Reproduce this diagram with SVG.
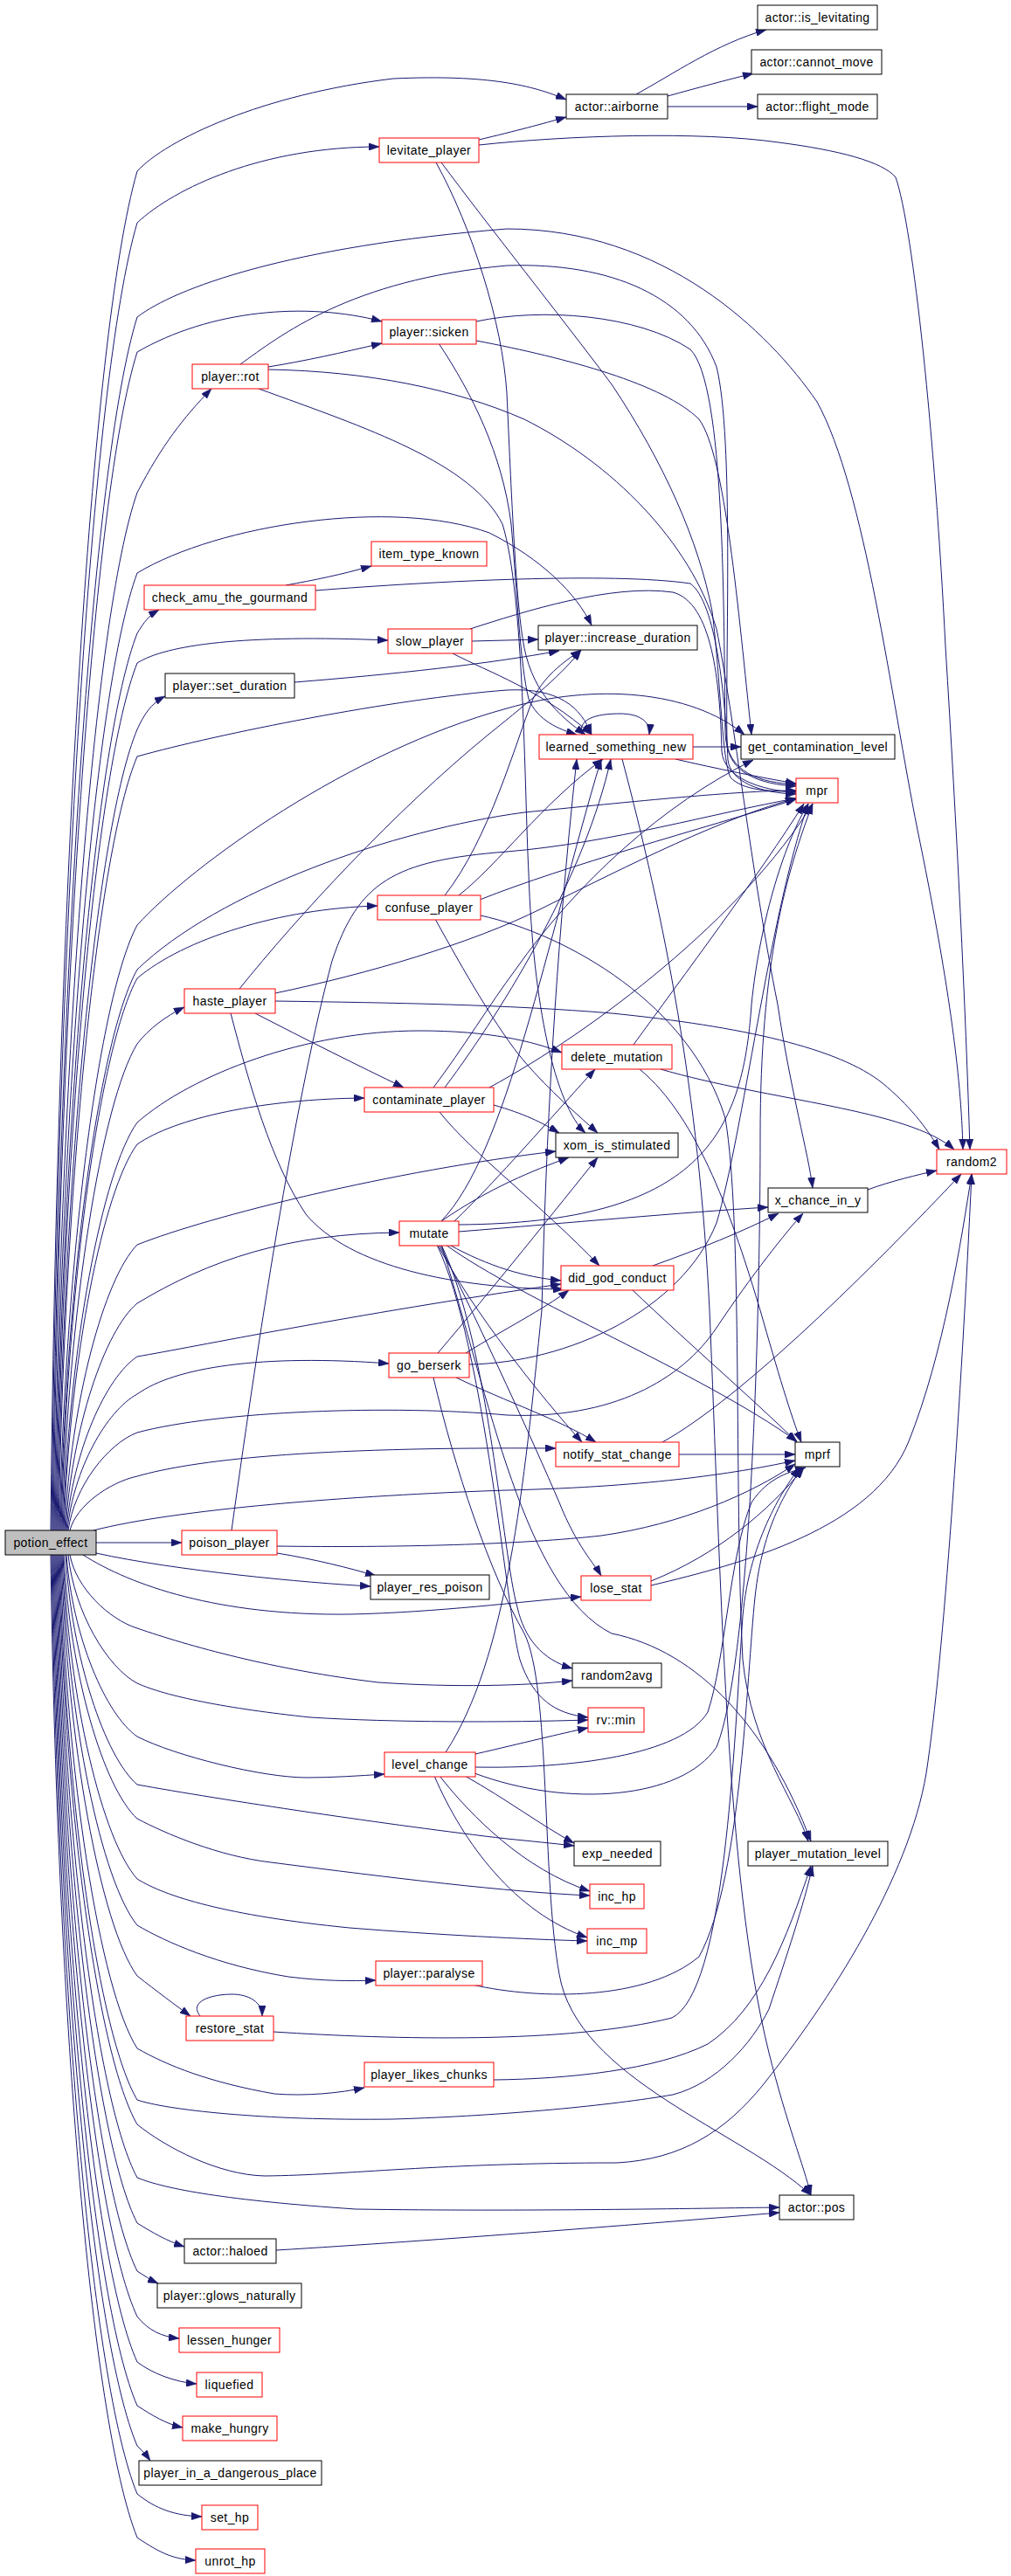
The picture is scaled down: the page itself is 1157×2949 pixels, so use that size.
<svg xmlns="http://www.w3.org/2000/svg" width="1157" height="2949" viewBox="0 0 1157 2949">
<defs>
<style>
.nr rect{fill:#fff;stroke:#ff0000;stroke-width:1}
.nb rect{fill:#fff;stroke:#000;stroke-width:1}
.ng rect{fill:#bfbfbf;stroke:#000;stroke-width:1}
text{font-family:"Liberation Sans",Arial,sans-serif;font-size:14px;letter-spacing:0.4px;text-anchor:middle;fill:#000}
#edges path{fill:none;stroke:#191970;stroke-width:1;marker-end:url(#a)}
</style>
<marker id="a" viewBox="0 0 12 8.5" refX="12" refY="4.25" markerWidth="12" markerHeight="8.5" markerUnits="userSpaceOnUse" orient="auto"><path d="M0,0 L12,4.25 L0,8.5 z" fill="#191970" stroke="#191970" stroke-width="0.5"/></marker>
</defs>
<rect x="0" y="0" width="1157" height="2949" fill="#fff"/>
<g id="edges">
<path d="M58,1752 C65,1052 103,383 157,196 C190,160 300,108 450,90 C560,85 610,98 648,114"/>
<path d="M59,1752 C66,1078 104,435 157,255 C200,215 300,168 434,168"/>
<path d="M60,1752 C67,1127 105,530 157,363 C200,330 330,282 580,262 C760,262 880,380 935,460 C990,560 1020,800 1050,950 C1085,1120 1100,1230 1102,1316"/>
<path d="M61,1752 C68,1145 106,565 157,403 C240,355 350,345 437,368"/>
<path d="M62,1752 C69,1217 107,707 157,564 C185,510 210,478 242,445"/>
<path d="M63,1752 C70,1259 108,788 157,656 C250,600 450,570 560,610 C620,640 660,680 677,716"/>
<path d="M64,1752 C71,1290 109,848 157,725 C165,712 170,705 182,698"/>
<path d="M65,1752 C72,1305 110,878 157,759 C190,738 280,726 444,733"/>
<path d="M66,1752 C73,1339 111,945 157,835 C165,818 172,806 189,797"/>
<path d="M67,1752 C74,1353 112,972 157,866 C250,840 450,800 580,790 C640,787 665,810 677,841"/>
<path d="M68,1752 C75,1440 113,1142 157,1059 C220,990 400,860 580,811 C680,782 790,790 852,841"/>
<path d="M69,1752 C76,1463 114,1187 157,1110 C250,1020 450,950 600,930 C750,915 850,905 911,905"/>
<path d="M70,1752 C77,1468 115,1196 157,1120 C210,1075 320,1040 432,1037"/>
<path d="M71,1752 C78,1501 116,1262 157,1195 C170,1178 190,1163 211,1153"/>
<path d="M72,1752 C79,1542 117,1341 157,1285 C220,1230 350,1180 480,1180 C560,1180 610,1192 643,1205"/>
<path d="M73,1752 C80,1553 118,1363 157,1310 C200,1280 300,1258 417,1257"/>
<path d="M74,1752 C81,1605 119,1464 157,1425 C240,1392 450,1340 636,1318"/>
<path d="M75,1752 C82,1635 120,1523 157,1492 C240,1442 330,1412 457,1411"/>
<path d="M76,1752 C83,1662 121,1577 157,1553 C222,1542 400,1505 642,1470"/>
<path d="M77,1752 C84,1682 122,1615 157,1596 C200,1565 300,1550 445,1561"/>
<path d="M78,1752 C85,1702 123,1653 157,1640 C250,1615 450,1608 580,1620 C700,1625 780,1580 820,1520 C860,1460 900,1410 919,1389"/>
<path d="M80,1752 C87,1724 125,1697 157,1690 C220,1672 350,1656 636,1658"/>
<path d="M107,1752 C200,1728 400,1712 580,1706 C750,1702 850,1685 910,1672"/>
<path d="M110,1766 L208,1766"/>
<path d="M110,1778 C200,1798 350,1812 424,1816"/>
<path d="M95,1780 C150,1815 250,1850 400,1848 C500,1846 600,1833 665,1828"/>
<path d="M80,1780 C87,1818 125,1854 157,1864 C215,1884 314,1912 433,1926 C520,1932 600,1930 655,1924"/>
<path d="M78,1780 C85,1846 123,1909 157,1927 C190,1942 260,1956 355,1966 C450,1972 580,1972 673,1969"/>
<path d="M76,1780 C83,1874 121,1963 157,1988 C200,2010 300,2035 351,2035 C380,2035 410,2033 440,2031"/>
<path d="M75,1780 C82,1898 120,2011 157,2043 C250,2060 450,2090 580,2105 C610,2108 630,2110 657,2113"/>
<path d="M73,1780 C80,1916 118,2046 157,2082 C189,2099 250,2125 310,2132 C450,2150 580,2166 675,2170"/>
<path d="M72,1780 C79,1947 117,2106 157,2151 C189,2171 259,2193 400,2207 C500,2215 600,2220 672,2222"/>
<path d="M71,1780 C78,1971 116,2153 157,2204 C189,2223 250,2250 330,2263 C370,2268 400,2268 430,2267"/>
<path d="M70,1780 C77,1997 115,2204 157,2262 C180,2280 200,2295 218,2308"/>
<path d="M69,1780 C76,2034 114,2277 157,2345 C192,2365 240,2384 314,2397 C350,2400 390,2396 417,2390"/>
<path d="M68,1780 C75,2061 113,2329 157,2404 C189,2415 300,2428 450,2426 C580,2422 700,2410 770,2398 C820,2385 860,2340 880,2300 C900,2240 920,2180 930,2136"/>
<path d="M67,1780 C74,2073 112,2354 157,2432 C189,2458 250,2490 303,2491 C400,2490 500,2476 706,2476 C780,2472 830,2440 873,2387 C950,2290 1040,2150 1060,2030 C1080,1900 1100,1600 1112,1344"/>
<path d="M66,1780 C73,2101 111,2407 157,2493 C189,2506 259,2519 407,2529 C600,2532 800,2528 892,2527"/>
<path d="M65,1780 C72,2124 110,2453 157,2545 C175,2556 190,2565 211,2572"/>
<path d="M64,1780 C71,2149 109,2502 157,2600 C165,2605 172,2610 181,2614"/>
<path d="M63,1780 C70,2172 108,2547 157,2652 C170,2668 185,2675 205,2677"/>
<path d="M62,1780 C69,2196 107,2593 157,2704 C174,2717 200,2727 225,2729"/>
<path d="M61,1780 C68,2218 106,2637 157,2754 C174,2765 190,2775 209,2779"/>
<path d="M60,1780 C67,2239 105,2678 157,2800 C163,2806 167,2810 172,2817"/>
<path d="M59,1780 C66,2264 104,2726 157,2855 C178,2872 200,2880 231,2881"/>
<path d="M58,1780 C65,2286 103,2770 157,2905 C185,2924 200,2930 224,2931"/>
<path d="M728,108 C770,85 820,50 877,34"/>
<path d="M764,110 C800,100 830,92 862,84"/>
<path d="M764,122 L867,122"/>
<path d="M548,160 C590,150 620,142 648,134"/>
<path d="M548,166 C650,155 800,150 891,163 C960,172 1010,185 1025,203 C1045,260 1070,500 1082,740 C1095,950 1105,1150 1110,1316"/>
<path d="M499,186 C540,260 575,370 580,450 C585,560 590,680 598,730 C606,790 640,820 670,841"/>
<path d="M505,186 C560,260 640,360 700,440 C760,530 800,620 815,700 C825,780 826,870 836,890 C850,905 880,906 911,906"/>
<path d="M307,420 C350,413 390,404 437,393"/>
<path d="M275,417 C320,385 400,320 580,304 C700,300 790,340 820,420 C840,500 830,750 832,850 C834,885 870,898 911,900"/>
<path d="M307,423 C420,425 520,445 600,480 C700,530 790,620 820,720 C840,820 860,1000 890,1150 C905,1250 925,1320 930,1360"/>
<path d="M296,445 C420,490 540,530 575,600 C600,680 600,900 605,1000 C610,1150 635,1265 670,1297"/>
<path d="M545,368 C620,352 730,360 790,400 C830,440 828,700 830,840 C832,885 870,896 911,898"/>
<path d="M545,390 C650,410 760,440 800,480 C830,520 845,700 860,841"/>
<path d="M502,393 C540,450 575,520 585,600 C592,680 595,760 605,800 C615,825 640,835 660,841"/>
<path d="M327,670 C360,664 390,658 425,648"/>
<path d="M361,676 C500,665 700,655 790,668 C820,690 830,800 833,870 C836,895 870,908 911,909"/>
<path d="M540,734 L616,732"/>
<path d="M538,720 C600,700 700,668 770,678 C815,690 824,780 826,860 C828,890 870,905 911,907"/>
<path d="M518,748 C560,770 620,790 677,841"/>
<path d="M337,781 C450,772 560,760 640,745"/>
<path d="M509,1025 C560,960 590,850 610,800 C625,770 650,755 665,744"/>
<path d="M525,1025 C570,990 620,920 690,869"/>
<path d="M549,1030 C650,990 800,950 911,915"/>
<path d="M550,1048 C650,1070 790,1150 830,1280 C850,1400 840,1700 850,1900 C860,2000 910,2060 925,2108"/>
<path d="M498,1052 C530,1110 570,1180 600,1215 C630,1250 660,1275 684,1297"/>
<path d="M274,1132 C340,1050 450,930 560,840 C610,800 645,770 665,744"/>
<path d="M315,1137 C420,1115 540,1080 620,1040 C720,990 830,935 911,914"/>
<path d="M315,1146 C450,1148 580,1150 700,1160 C850,1175 960,1200 1010,1240 C1040,1265 1060,1290 1075,1316"/>
<path d="M292,1160 C350,1190 410,1220 462,1245"/>
<path d="M264,1160 C285,1240 310,1330 350,1390 C400,1450 520,1475 645,1476"/>
<path d="M496,1245 C530,1200 560,1150 590,1110 C660,1010 760,920 862,870"/>
<path d="M509,1245 C580,1150 670,1000 699,869"/>
<path d="M560,1245 C680,1180 850,1050 930,920"/>
<path d="M565,1265 C600,1275 620,1285 640,1297"/>
<path d="M503,1273 C540,1320 620,1380 686,1449"/>
<path d="M505,1398 C580,1320 625,1080 688,869"/>
<path d="M505,1398 C560,1360 610,1340 651,1325"/>
<path d="M520,1398 C570,1350 630,1280 681,1224"/>
<path d="M525,1402 C800,1400 850,1300 860,1150 C870,1050 900,960 925,920"/>
<path d="M525,1410 C650,1400 780,1388 879,1382"/>
<path d="M514,1425 C560,1450 600,1462 642,1466"/>
<path d="M501,1425 C540,1500 620,1600 666,1651"/>
<path d="M503,1425 C555,1530 610,1650 640,1720 C660,1770 680,1790 688,1804"/>
<path d="M505,1425 C560,1540 575,1780 592,1840 C600,1875 620,1900 655,1910"/>
<path d="M500,1425 C555,1540 580,1850 595,1900 C610,1945 635,1962 673,1966"/>
<path d="M510,1425 C600,1490 800,1570 912,1650"/>
<path d="M505,1425 C560,1600 600,1820 700,1870 C800,1890 880,1980 928,2108"/>
<path d="M501,1549 C560,1480 640,1380 684,1325"/>
<path d="M533,1549 C580,1520 620,1500 651,1477"/>
<path d="M537,1562 C650,1560 780,1500 820,1400 C850,1300 880,1050 925,920"/>
<path d="M522,1577 C580,1605 640,1625 682,1651"/>
<path d="M496,1577 C520,1680 560,1800 600,1870 C630,1930 620,2150 640,2260 C660,2380 850,2440 928,2513"/>
<path d="M265,1752 C300,1500 340,1250 380,1100 C410,1010 450,985 580,975 C700,965 820,930 911,914"/>
<path d="M317,1778 C360,1785 400,1795 430,1804"/>
<path d="M317,1770 C450,1772 600,1768 688,1758 C780,1745 860,1710 910,1676"/>
<path d="M510,2006 C580,1900 600,1700 620,1500 C625,1300 635,1100 660,869"/>
<path d="M544,2008 C600,1995 640,1985 673,1978"/>
<path d="M544,2023 C650,2025 780,2010 810,1960 C830,1900 835,1780 860,1720 C880,1690 905,1685 922,1680"/>
<path d="M543,2030 C650,2070 780,2060 820,2000 C860,1900 870,1500 870,1300 C870,1100 900,1000 930,920"/>
<path d="M532,2033 C580,2060 620,2090 657,2110"/>
<path d="M503,2033 C540,2080 600,2140 675,2165"/>
<path d="M497,2033 C530,2110 590,2190 672,2218"/>
<path d="M540,2272 C620,2290 740,2290 800,2240 C850,2150 855,1900 865,1820 C875,1740 905,1700 918,1680"/>
<path d="M229,2308 C215,2290 245,2283 265,2283 C285,2283 300,2292 300,2308"/>
<path d="M313,2326 C450,2335 650,2340 769,2310 C830,2280 840,2000 850,1850 C858,1760 900,1700 915,1680"/>
<path d="M565,2381 C650,2380 750,2370 810,2340 C870,2300 900,2220 928,2136"/>
<path d="M316,2576 C500,2565 750,2545 892,2533"/>
<path d="M666,841 C660,820 690,817 710,817 C730,817 745,825 743,841"/>
<path d="M793,855 L848,855"/>
<path d="M773,869 C820,880 870,890 911,897"/>
<path d="M712,869 C760,1050 800,1250 812,1500 C825,1800 830,2150 880,2350 C900,2430 920,2480 928,2513"/>
<path d="M756,1224 C880,1260 1040,1270 1092,1316"/>
<path d="M725,1196 C780,1120 870,1000 920,920"/>
<path d="M732,1224 C800,1280 840,1400 870,1500 C890,1570 905,1620 917,1651"/>
<path d="M747,1449 C800,1430 850,1410 891,1389"/>
<path d="M723,1476 C790,1540 860,1600 912,1651"/>
<path d="M777,1665 L910,1665"/>
<path d="M758,1651 C850,1600 1000,1450 1100,1344"/>
<path d="M745,1810 C820,1780 880,1730 920,1680"/>
<path d="M745,1815 C850,1790 1000,1750 1040,1650 C1080,1550 1100,1420 1112,1344"/>
<path d="M993,1362 C1020,1352 1050,1345 1072,1340"/>
</g>
<g id="n_potion_effect" class="ng"><rect x="6" y="1752" width="104" height="28"/><text x="58" y="1771">potion_effect</text></g>
<g id="n_player_rot" class="nr"><rect x="220" y="417" width="87" height="28"/><text x="263.5" y="436">player::rot</text></g>
<g id="n_check_amu_the_gourmand" class="nr"><rect x="165" y="670" width="196" height="28"/><text x="263" y="689">check_amu_the_gourmand</text></g>
<g id="n_player_set_duration" class="nb"><rect x="189" y="771" width="148" height="28"/><text x="263" y="790">player::set_duration</text></g>
<g id="n_haste_player" class="nr"><rect x="211" y="1132" width="104" height="28"/><text x="263" y="1151">haste_player</text></g>
<g id="n_poison_player" class="nr"><rect x="208" y="1752" width="109" height="28"/><text x="262.5" y="1771">poison_player</text></g>
<g id="n_restore_stat" class="nr"><rect x="213" y="2308" width="100" height="28"/><text x="263" y="2327">restore_stat</text></g>
<g id="n_actor_haloed" class="nb"><rect x="211" y="2563" width="105" height="28"/><text x="263.5" y="2582">actor::haloed</text></g>
<g id="n_player_glows_naturally" class="nb"><rect x="180" y="2614" width="165" height="28"/><text x="262.5" y="2633">player::glows_naturally</text></g>
<g id="n_lessen_hunger" class="nr"><rect x="205" y="2665" width="115" height="28"/><text x="262.5" y="2684">lessen_hunger</text></g>
<g id="n_liquefied" class="nr"><rect x="225" y="2716" width="75" height="28"/><text x="262.5" y="2735">liquefied</text></g>
<g id="n_make_hungry" class="nr"><rect x="209" y="2766" width="108" height="28"/><text x="263" y="2785">make_hungry</text></g>
<g id="n_player_in_a_dangerous_place" class="nb"><rect x="159" y="2817" width="209" height="28"/><text x="263.5" y="2836">player_in_a_dangerous_place</text></g>
<g id="n_set_hp" class="nr"><rect x="231" y="2868" width="64" height="28"/><text x="263" y="2887">set_hp</text></g>
<g id="n_unrot_hp" class="nr"><rect x="224" y="2918" width="79" height="28"/><text x="263.5" y="2937">unrot_hp</text></g>
<g id="n_levitate_player" class="nr"><rect x="434" y="158" width="114" height="28"/><text x="491" y="177">levitate_player</text></g>
<g id="n_player_sicken" class="nr"><rect x="437" y="366" width="108" height="28"/><text x="491" y="385">player::sicken</text></g>
<g id="n_item_type_known" class="nr"><rect x="425" y="620" width="132" height="28"/><text x="491" y="639">item_type_known</text></g>
<g id="n_slow_player" class="nr"><rect x="444" y="720" width="96" height="28"/><text x="492" y="739">slow_player</text></g>
<g id="n_confuse_player" class="nr"><rect x="432" y="1025" width="118" height="28"/><text x="491" y="1044">confuse_player</text></g>
<g id="n_contaminate_player" class="nr"><rect x="417" y="1245" width="148" height="28"/><text x="491" y="1264">contaminate_player</text></g>
<g id="n_mutate" class="nr"><rect x="457" y="1398" width="68" height="28"/><text x="491" y="1417">mutate</text></g>
<g id="n_go_berserk" class="nr"><rect x="445" y="1549" width="92" height="28"/><text x="491" y="1568">go_berserk</text></g>
<g id="n_player_res_poison" class="nb"><rect x="424" y="1803" width="136" height="28"/><text x="492" y="1822">player_res_poison</text></g>
<g id="n_level_change" class="nr"><rect x="440" y="2006" width="104" height="28"/><text x="492" y="2025">level_change</text></g>
<g id="n_player_paralyse" class="nr"><rect x="430" y="2245" width="122" height="28"/><text x="491" y="2264">player::paralyse</text></g>
<g id="n_player_likes_chunks" class="nr"><rect x="417" y="2361" width="148" height="28"/><text x="491" y="2380">player_likes_chunks</text></g>
<g id="n_actor_airborne" class="nb"><rect x="648" y="108" width="116" height="28"/><text x="706" y="127">actor::airborne</text></g>
<g id="n_player_increase_duration" class="nb"><rect x="616" y="716" width="182" height="28"/><text x="707" y="735">player::increase_duration</text></g>
<g id="n_learned_something_new" class="nr"><rect x="617" y="841" width="176" height="28"/><text x="705" y="860">learned_something_new</text></g>
<g id="n_delete_mutation" class="nr"><rect x="643" y="1196" width="126" height="28"/><text x="706" y="1215">delete_mutation</text></g>
<g id="n_xom_is_stimulated" class="nb"><rect x="636" y="1297" width="140" height="28"/><text x="706" y="1316">xom_is_stimulated</text></g>
<g id="n_did_god_conduct" class="nr"><rect x="642" y="1449" width="129" height="28"/><text x="706.5" y="1468">did_god_conduct</text></g>
<g id="n_notify_stat_change" class="nr"><rect x="636" y="1651" width="141" height="28"/><text x="706.5" y="1670">notify_stat_change</text></g>
<g id="n_lose_stat" class="nr"><rect x="665" y="1804" width="80" height="28"/><text x="705" y="1823">lose_stat</text></g>
<g id="n_random2avg" class="nb"><rect x="655" y="1904" width="102" height="28"/><text x="706" y="1923">random2avg</text></g>
<g id="n_rv_min" class="nr"><rect x="673" y="1955" width="64" height="28"/><text x="705" y="1974">rv::min</text></g>
<g id="n_exp_needed" class="nb"><rect x="657" y="2108" width="99" height="28"/><text x="706.5" y="2127">exp_needed</text></g>
<g id="n_inc_hp" class="nr"><rect x="675" y="2157" width="62" height="28"/><text x="706" y="2176">inc_hp</text></g>
<g id="n_inc_mp" class="nr"><rect x="672" y="2208" width="68" height="28"/><text x="706" y="2227">inc_mp</text></g>
<g id="n_actor_is_levitating" class="nb"><rect x="867" y="6" width="137" height="28"/><text x="935.5" y="25">actor::is_levitating</text></g>
<g id="n_actor_cannot_move" class="nb"><rect x="860" y="57" width="149" height="28"/><text x="934.5" y="76">actor::cannot_move</text></g>
<g id="n_actor_flight_mode" class="nb"><rect x="867" y="108" width="137" height="28"/><text x="935.5" y="127">actor::flight_mode</text></g>
<g id="n_get_contamination_level" class="nb"><rect x="848" y="841" width="176" height="28"/><text x="936" y="860">get_contamination_level</text></g>
<g id="n_mpr" class="nr"><rect x="911" y="891" width="48" height="28"/><text x="935" y="910">mpr</text></g>
<g id="n_x_chance_in_y" class="nb"><rect x="879" y="1360" width="114" height="28"/><text x="936" y="1379">x_chance_in_y</text></g>
<g id="n_mprf" class="nb"><rect x="910" y="1651" width="51" height="28"/><text x="935.5" y="1670">mprf</text></g>
<g id="n_player_mutation_level" class="nb"><rect x="856" y="2108" width="160" height="28"/><text x="936" y="2127">player_mutation_level</text></g>
<g id="n_actor_pos" class="nb"><rect x="892" y="2513" width="85" height="28"/><text x="934.5" y="2532">actor::pos</text></g>
<g id="n_random2" class="nr"><rect x="1072" y="1316" width="80" height="28"/><text x="1112" y="1335">random2</text></g>
</svg>
